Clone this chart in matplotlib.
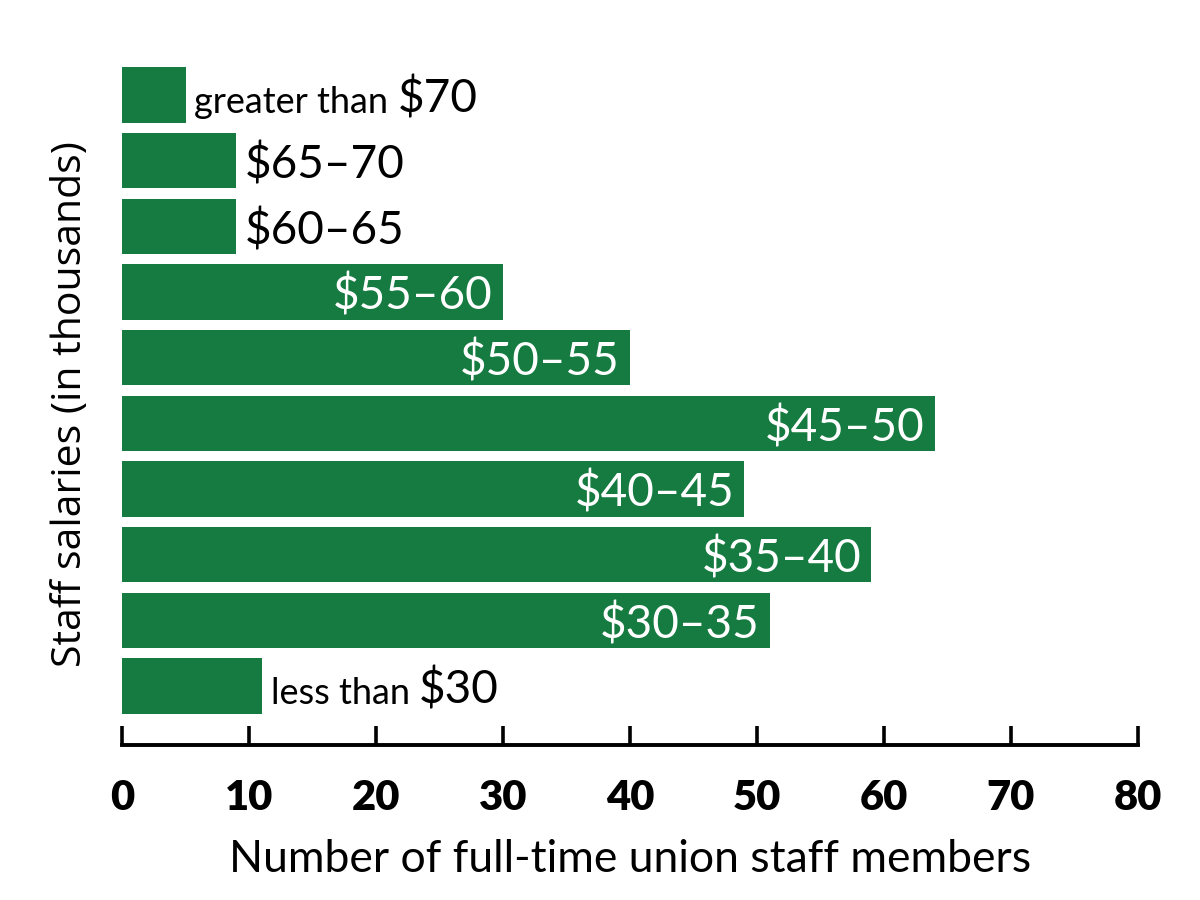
import matplotlib
matplotlib.use("Agg")
import matplotlib.pyplot as plt

# salary bands, bottom to top
bands = ["less than $30", "$30–35", "$35–40", "$40–45", "$45–50",
         "$50–55", "$55–60", "$60–65", "$65–70", "greater than $70"]
staff = [11, 51, 59, 49, 64, 40, 30, 9, 9, 5]
x_ticks = [0, 10, 20, 30, 40, 50, 60, 70, 80]

green = "#157b40"
main_font = "Lato"

fig = plt.figure(figsize=(12, 9), dpi=100)
ax = fig.add_axes([0.1017, 0.172, 0.8466, 0.759])

ypos = list(range(len(bands)))
ax.barh(ypos, staff, height=0.84, color=green)

ax.set_xlim(0, 80)
ax.set_ylim(-0.9, 9.5)

for s in ["top", "right", "left"]:
    ax.spines[s].set_visible(False)
ax.spines["bottom"].set_linewidth(2.8)
ax.set_yticks([])
ax.set_xticks(x_ticks)
ax.set_xticklabels([str(t) for t in x_ticks], fontfamily=main_font,
                   fontweight="heavy", fontsize=30)
ax.tick_params(axis="x", direction="in", length=14, width=2.6, pad=24)

ax.set_xlabel("Number of full-time union staff members", fontfamily=main_font,
              fontsize=32, labelpad=16)
ax.set_ylabel("Staff salaries (in thousands)", fontfamily="Open Sans",
              fontsize=29.5, labelpad=22)

fig.canvas.draw()
for y, label, v in zip(ypos, bands, staff):
    base = y - 0.27
    if v >= 20:
        ax.text(v - 0.8, base, label.replace("$", r"\$"), ha="right",
                va="baseline", color="white", fontfamily=main_font, fontsize=33)
    elif " " in label:
        words, amount = label.rsplit(" ", 1)
        t1 = ax.text(v + 0.7, base, words + " ", ha="left", va="baseline",
                     color="black", fontfamily=main_font, fontsize=26)
        ax.annotate(amount.replace("$", r"\$"), xy=(1, base),
                    xycoords=(t1, "data"), ha="left", va="baseline",
                    color="black", fontfamily=main_font, fontsize=33)
    else:
        ax.text(v + 0.7, base, label.replace("$", r"\$"), ha="left",
                va="baseline", color="black", fontfamily=main_font, fontsize=33)

fig.savefig("out.png", dpi=100)
